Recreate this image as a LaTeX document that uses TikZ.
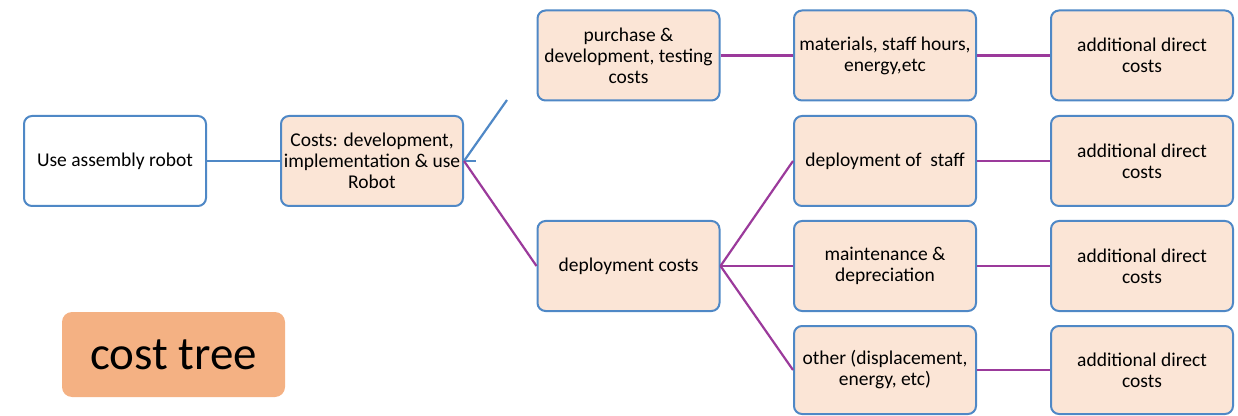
\documentclass[tikz,border=0pt]{standalone}
\usepackage{fontspec}
\setmainfont{Carlito}
\definecolor{bordblue}{HTML}{4F88C6}
\definecolor{peach}{HTML}{FBE5D6}
\definecolor{linkpurple}{HTML}{9B3A9B}
\definecolor{tagorange}{HTML}{F4B183}
\begin{document}
\begin{tikzpicture}[x=1pt,y=1pt,
  box/.style={draw=bordblue,line width=2pt,rounded corners=8pt,minimum width=182pt,minimum height=90pt,align=center,inner sep=2pt,font=\fontsize{19.5}{21}\selectfont},
  peachbox/.style={box,fill=peach},
  bluelink/.style={draw=bordblue,line width=2.2pt},
  purplelink/.style={draw=linkpurple,line width=2.2pt}]
\useasboundingbox (0,0) rectangle (1238,415);
\node[box,fill=white] (use) at (115,254) {Use assembly robot};
\node[peachbox] (cost) at (372,254) {Costs: development,\\implementation \& use\\Robot};
\node[peachbox] (purch) at (628.5,359.5) {purchase \&\\development, testing\\costs};
\node[peachbox] (deploy) at (628.5,149) {deployment costs};
\node[peachbox] (mat) at (885,359.5) {materials, staff hours,\\energy,etc};
\node[peachbox] (staff) at (885,254) {deployment of~ staff};
\node[peachbox] (maint) at (885,149) {maintenance \&\\depreciation};
\node[peachbox,minimum height=88pt] (other) at (885,45) {other (displacement,\\energy, etc)};
\node[peachbox] (add1) at (1142,359.5) {additional direct\\costs};
\node[peachbox] (add2) at (1142,254) {additional direct\\costs};
\node[peachbox] (add3) at (1142,149) {additional direct\\costs};
\node[peachbox,minimum height=88pt] (add4) at (1142,45) {additional direct\\costs};
\node[fill=tagorange,rounded corners=10pt,minimum width=223pt,minimum height=85pt,font=\fontsize{47}{50}\selectfont] (tag) at (173.5,60.5) {cost tree};
\coordinate (stub) at (476,254);
\coordinate (upend) at (507,315);
\draw[bluelink] (use.east) -- (cost.west);
\draw[bluelink] (cost.east) -- (stub);
\draw[bluelink] (cost.east) -- (upend);
\draw[purplelink] (cost.east) -- (deploy.west);
\draw[purplelink] (purch.east) -- (mat.west);
\draw[purplelink] (mat.east) -- (add1.west);
\draw[purplelink] (deploy.east) -- (staff.west);
\draw[purplelink] (deploy.east) -- (maint.west);
\draw[purplelink] (deploy.east) -- (other.west);
\draw[purplelink] (staff.east) -- (add2.west);
\draw[purplelink] (maint.east) -- (add3.west);
\draw[purplelink] (other.east) -- (add4.west);
\end{tikzpicture}
\end{document}
